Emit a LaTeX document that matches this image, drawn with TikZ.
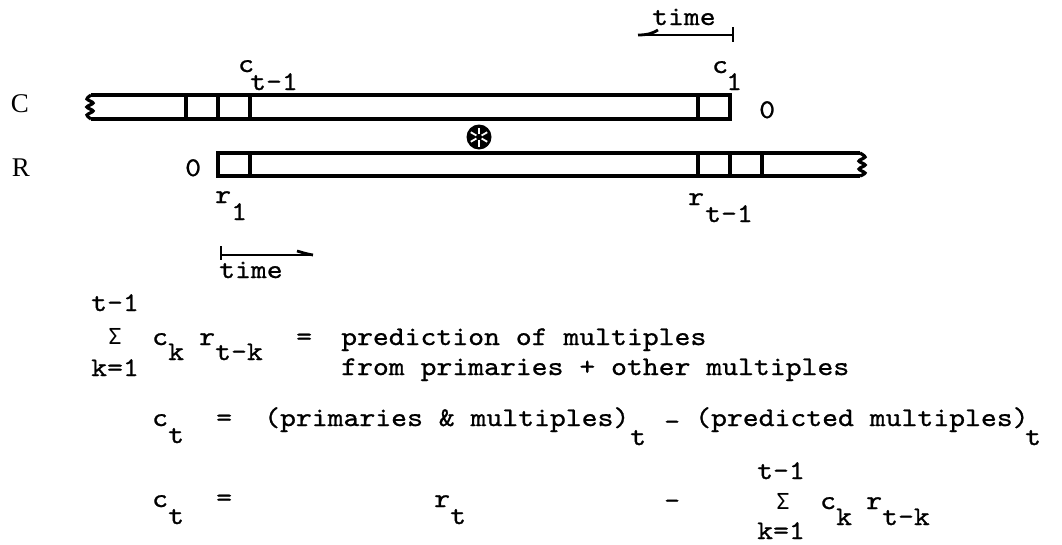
\documentclass[tikz,border=0pt]{standalone}
\usepackage{fontspec}
\newfontfamily\tw[FakeStretch=1.12,FakeBold=0.9]{lmmono10-regular.otf}
\newfontfamily\sr{Liberation Serif}
\newfontfamily\sgm{DejaVu Sans Mono}
\tikzset{
  tt/.style={inner sep=0pt, anchor=base west, font=\tw\fontsize{27}{30}\selectfont},
  sig/.style={inner sep=0pt, anchor=base, font=\sgm\fontsize{22}{24}\selectfont},
  lbl/.style={inner sep=0pt, font=\sr\fontsize{27}{30}\selectfont},
  bar/.style={line width=3.2pt, line join=miter},
  divider/.style={line width=3.2pt},
  timeline/.style={line width=2.8pt},
}
\begin{document}
\begin{tikzpicture}[x=1pt,y=-1pt]
\useasboundingbox (0,0) rectangle (1062,544);

% row labels
\node[lbl] (labC) at (20,104) {C};
\node[lbl] (labR) at (21,168) {R};

% C strip
\draw[bar] (91,95) -- (730,95) -- (730,119) -- (91,119);
\draw[bar] plot[smooth] coordinates {(91,95) (87,99) (93,103) (87,107) (93,111) (87,115) (91,119)};
\foreach \x in {186,218,250,698} \draw[divider] (\x,95) -- (\x,119);

% R strip
\draw[bar] (860,153) -- (218,153) -- (218,176) -- (860,176);
\draw[bar] plot[smooth] coordinates {(860,153) (865,157) (859,161) (865,165) (859,169) (865,173) (860,176)};
\foreach \x in {250,698,730,762} \draw[divider] (\x,153) -- (\x,176);

% convolution symbol
\node[circle, fill=black, minimum size=25pt, inner sep=0pt] (conv) at (479,137) {};
\foreach \a in {90,150,210,270,330,30} \draw[white, line width=1.8pt] (conv.center) ++(\a:3) -- ++(\a:6.5);

% labels on strips
\node[tt] (c1) at (238,72) {c};
\node[tt] (c1s) at (250,90) {t-1};
\node[tt] (cA) at (712,73) {c};
\node[tt] (cAs) at (726,90) {1};
\node[tt] (zeroC) at (759,118) {0};
\node[tt] (zeroR) at (185,176) {0};
\node[tt] (r1) at (215,203) {r};
\node[tt] (r1s) at (231,220) {1};
\node[tt] (rt) at (688,205) {r};
\node[tt] (rts) at (705,222) {t-1};

% time arrows
\node[tt] (timeTop) at (652,25) {time};
\coordinate (tT1) at (733,35);
\coordinate (tT2) at (638,35);
\draw[timeline] (tT1) -- (tT2);
\draw[timeline] (733,27) -- (733,42);
\draw[timeline] (tT2) .. controls (648,35) and (653,33) .. (658,30);

\node[tt] (timeBot) at (219,278) {time};
\coordinate (tB1) at (221,255);
\coordinate (tB2) at (313,255);
\draw[timeline] (tB1) -- (tB2);
\draw[timeline] (221,246) -- (221,260);
\draw[timeline] (tB2) .. controls (306,254) and (301,252) .. (297,251);

% equation 1
\node[tt] (s1top) at (91,311) {t-1};
\node[sig] (s1) at (115,344) {Σ};
\node[tt] (s1bot) at (91,376) {k=1};
\node[tt] (e1c) at (152,345) {c};
\node[tt] (e1k) at (168,360) {k};
\node[tt] (e1r) at (199,345) {r};
\node[tt] (e1tk) at (215,360) {t-k};
\node[tt] (e1eq) at (296,345) {=};
\node[tt] (e1t1) at (341,345) {prediction of multiples};
\node[tt] (e1t2) at (341,375) {from primaries + other multiples};

% equation 2
\node[tt] (e2c) at (152,426) {c};
\node[tt] (e2t) at (168,443) {t};
\node[tt] (e2eq) at (216,426) {=};
\node[tt] (e2a) at (264,426) {(primaries \& multiples)};
\node[tt] (e2at) at (630,445) {t};
\node[tt] (e2m) at (664,430) {-};
\node[tt] (e2b) at (695,426) {(predicted multiples)};
\node[tt] (e2bt) at (1025,445) {t};

% equation 3
\node[tt] (e3c) at (152,507) {c};
\node[tt] (e3t) at (168,524) {t};
\node[tt] (e3eq) at (216,506) {=};
\node[tt] (e3r) at (434,507) {r};
\node[tt] (e3rt) at (450,524) {t};
\node[tt] (e3m) at (664,509) {-};
\node[tt] (s3top) at (757,479) {t-1};
\node[sig] (s3) at (783,509) {Σ};
\node[tt] (s3bot) at (757,539) {k=1};
\node[tt] (e3ck) at (820,509) {c};
\node[tt] (e3k) at (836,525) {k};
\node[tt] (e3r2) at (866,509) {r};
\node[tt] (e3tk) at (882,525) {t-k};
\end{tikzpicture}
\end{document}
